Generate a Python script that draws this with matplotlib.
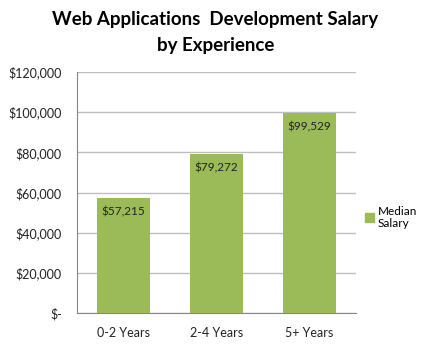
import matplotlib.pyplot as plt
from matplotlib.patches import Patch

categories = ['0-2 Years', '2-4 Years', '5+ Years']
median_salary = [57215, 79272, 99529]
y_ticks = [0, 20000, 40000, 60000, 80000, 100000, 120000]
y_tick_labels = ['$-', '$20,000', '$40,000', '$60,000', '$80,000', '$100,000', '$120,000']

GREEN = '#9BBB59'
plt.rcParams['font.family'] = ['Lato', 'DejaVu Sans']

fig = plt.figure(figsize=(4.31, 3.46), dpi=100)
ax = fig.add_axes([77 / 431, 1 - 313 / 346, 279 / 431, 241 / 346])

x = range(len(categories))
bars = ax.bar(x, median_salary, width=0.57, color=GREEN, zorder=3)
for b, v in zip(bars, median_salary):
    ax.text(b.get_x() + b.get_width() / 2, v - 7000, f'${v:,}',
            ha='center', va='center', fontsize=8.5, color='#222222', zorder=4)

ax.set_xlim(-0.5, len(categories) - 0.5)
ax.set_ylim(0, 120000)
ax.set_yticks(y_ticks)
ax.set_yticklabels(y_tick_labels)
ax.set_xticks(list(x))
ax.set_xticklabels(categories)
ax.tick_params(axis='y', length=0, pad=11, labelsize=9, colors='#222222')
ax.tick_params(axis='x', length=0, pad=10, labelsize=9, colors='#222222')
ax.grid(axis='y', color='#BEBEBE', linewidth=1, zorder=0)
for s in ['top', 'right']:
    ax.spines[s].set_visible(False)
ax.spines['left'].set_color('#868686')
ax.spines['bottom'].set_color('#868686')

fig.text(0.5, 1 - 20 / 346, 'Web Applications  Development Salary', ha='center', va='center',
         fontsize=13.5, fontweight='bold')
fig.text(0.5, 1 - 46 / 346, 'by Experience', ha='center', va='center',
         fontsize=13.5, fontweight='bold')

fig.legend(handles=[Patch(color=GREEN, label='Median\nSalary')], loc='upper left',
           bbox_to_anchor=(354 / 431, 1 - 195 / 346), frameon=False, fontsize=8.5,
           handlelength=0.8, handleheight=0.8, handletextpad=0.3)

fig.savefig('out.png', dpi=100)
